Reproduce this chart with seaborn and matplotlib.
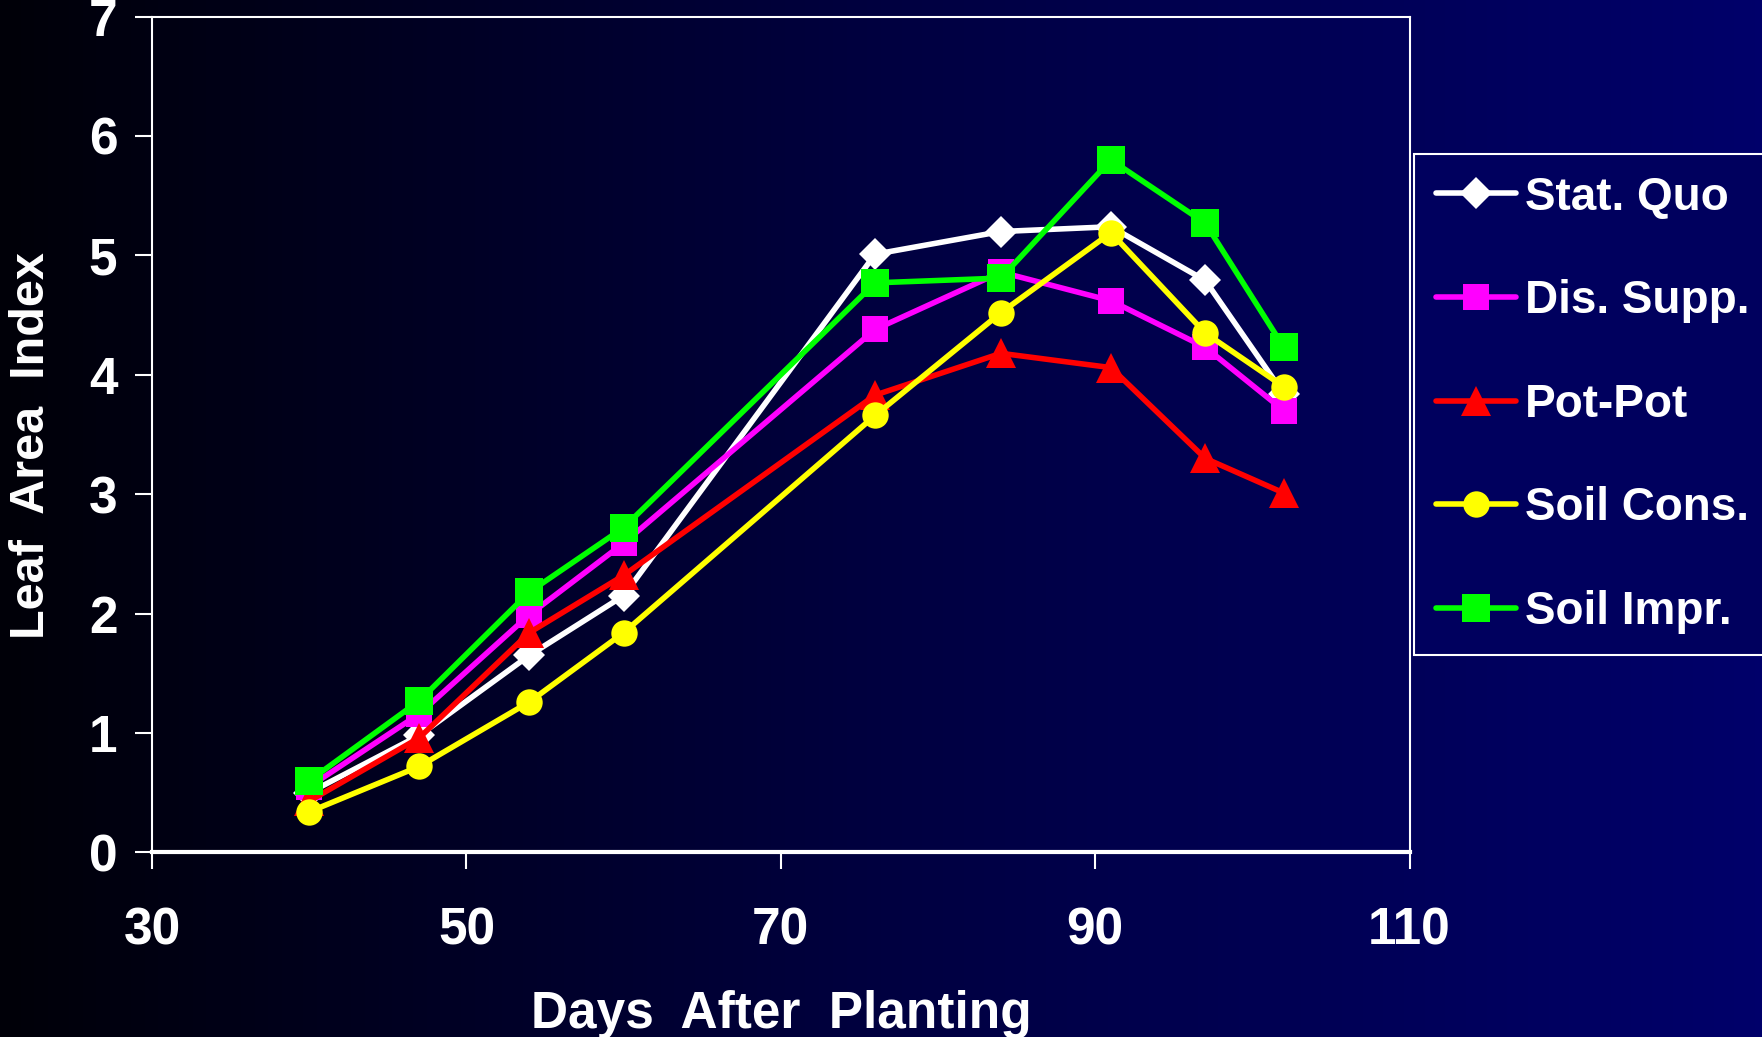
import numpy as np
import matplotlib
matplotlib.use("Agg")
import matplotlib.pyplot as plt
from matplotlib.colors import LinearSegmentedColormap
import seaborn as sns

# Leaf area index per treatment
days = [40, 47, 54, 60, 76, 84, 91, 97, 102]
stat_quo = [0.50, 0.98, 1.65, 2.15, 5.01, 5.20, 5.24, 4.79, 3.84]
dis_supp = [0.55, 1.16, 1.99, 2.59, 4.38, 4.86, 4.62, 4.23, 3.70]
pot_pot = [0.43, 0.96, 1.84, 2.32, 3.83, 4.18, 4.06, 3.30, 3.01]
soil_cons = [0.34, 0.72, 1.26, 1.84, 3.66, 4.52, 5.19, 4.35, 3.90]
soil_impr = [0.60, 1.27, 2.18, 2.72, 4.77, 4.81, 5.80, 5.27, 4.23]

series_names = ["Stat. Quo", "Dis. Supp.", "Pot-Pot", "Soil Cons.", "Soil Impr."]
x_ticks = [30, 50, 70, 90, 110]
y_ticks = [0, 1, 2, 3, 4, 5, 6, 7]

sns.set_style("ticks")
plt.rcParams['font.family'] = ['Liberation Sans', 'DejaVu Sans']
plt.rcParams['font.weight'] = 'bold'

fig = plt.figure(figsize=(17.62, 10.37), dpi=100)

# black -> navy gradient behind everything
bg = fig.add_axes([0, 0, 1, 1], zorder=-1)
grad = np.linspace(0, 1, 256).reshape(1, -1)
cmap = LinearSegmentedColormap.from_list("bg", ["#000008", "#000040", "#00006a"])
bg.imshow(grad, aspect='auto', cmap=cmap, extent=[0, 1, 0, 1])
bg.axis('off')

ax = fig.add_axes([0.0863, 0.178, 0.7137, 0.806])
ax.set_facecolor('none')

styles = [
    (stat_quo, "white", "D", 16),
    (dis_supp, "#ff00ff", "s", 19),
    (pot_pot, "#ff0000", "^", 21),
    (soil_cons, "#ffff00", "o", 19),
    (soil_impr, "#00ff00", "s", 20),
]
for name, (vals, col, mk, ms) in zip(series_names, styles):
    sns.lineplot(x=days, y=vals, color=col, marker=mk, markersize=ms,
                 markeredgewidth=0, linewidth=4, label=name, ax=ax)

ax.set(xlim=(30, 110), ylim=(0, 7), xticks=x_ticks, yticks=y_ticks)
ax.set_xlabel("Days  After  Planting", fontsize=37, fontweight='bold', color='white')
ax.set_ylabel("Leaf  Area  Index", fontsize=35, fontweight='bold', color='white')
ax.xaxis.set_label_coords(0.5, -0.165)
ax.yaxis.set_label_coords(-0.078, 0.487)

ax.tick_params(axis='both', direction='out', length=12, width=1.5,
               colors='white', labelsize=37)
ax.tick_params(axis='x', pad=27)
ax.tick_params(axis='y', pad=13)
for s in ax.spines.values():
    s.set_color('white')
    s.set_linewidth(1.5)
ax.spines['bottom'].set_linewidth(3)

leg = ax.legend(loc='upper left', bbox_to_anchor=(0.8025, 0.3674, 0.25, 0.4841),
                bbox_transform=fig.transFigure, mode='expand', borderaxespad=0,
                fontsize=33, labelspacing=1.3, handlelength=1.75, handletextpad=0.2,
                borderpad=0.47, frameon=True, fancybox=False)
leg.get_frame().set_facecolor('#00005e')
leg.get_frame().set_edgecolor('white')
leg.get_frame().set_linewidth(1.5)
leg.get_frame().set_alpha(1)
for t in leg.get_texts():
    t.set_color('white')
    t.set_fontweight('bold')

fig.savefig("out.png", dpi=100)
